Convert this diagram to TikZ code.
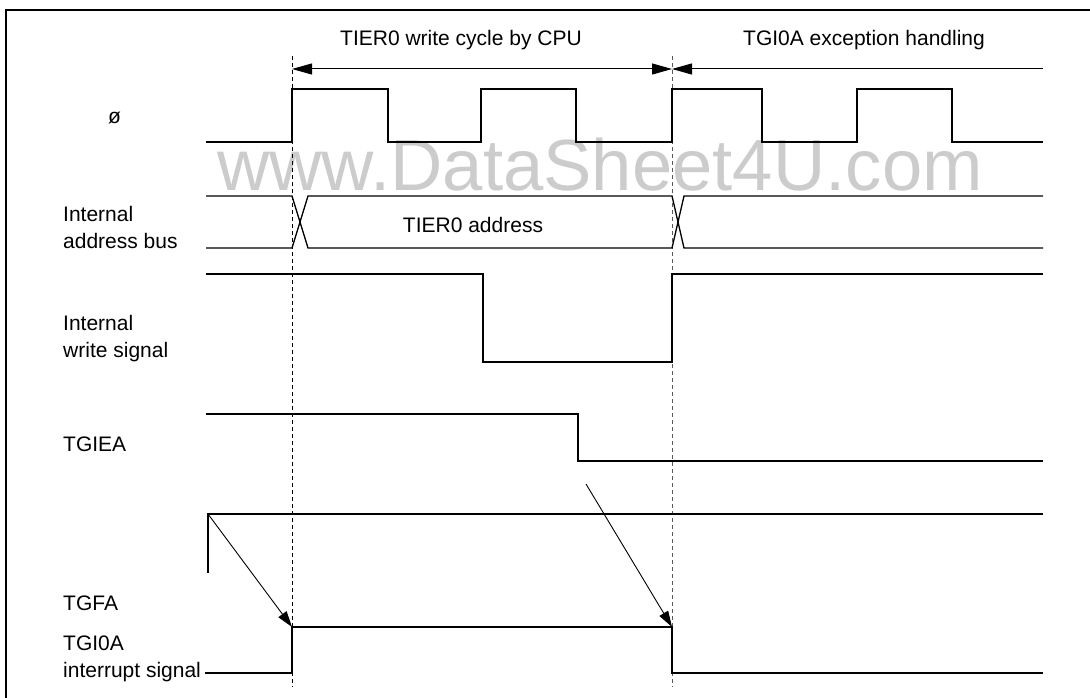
\documentclass[tikz,border=0pt]{standalone}
\usepackage{fontspec}
\setmainfont{Liberation Sans}
\usetikzlibrary{arrows.meta}
\begin{document}
\begin{tikzpicture}[x=1pt,y=-1pt,
  sig/.style={line width=1.3pt, line join=miter},
  lab/.style={anchor=base west, inner sep=0pt, font=\fontsize{21}{25}\selectfont},
  ttl/.style={anchor=base, inner sep=0pt, font=\fontsize{21}{25}\selectfont},
  guide/.style={line width=1pt, dash pattern=on 4pt off 3pt},
  span/.style={line width=1pt, {Triangle[length=20pt,width=11pt]}-{Triangle[length=20pt,width=11pt]}},
  spanl/.style={line width=1pt, {Triangle[length=20pt,width=11pt]}-},
  cause/.style={line width=0.9pt, -{Triangle[length=16pt,width=10pt]}}
]
\useasboundingbox (0,0) rectangle (1090,698);
% watermark
\node[anchor=base, inner sep=0pt, text=black!20, font=\fontsize{72.5}{80}\selectfont] (wm) at (600,190) {www.DataSheet4U.com};
% frame
\draw[line width=1.5pt] (6,698) -- (6,10) -- (1090,10);
% guides
\draw[guide] (292,56) -- (292,687);
\draw[guide, black!65] (672,56) -- (672,687);
% spans
\node[ttl] (t1) at (461,46) {TIER0 write cycle by CPU};
\node[ttl] (t2) at (864,46) {TGI0A exception handling};
\draw[span] (292,69) -- (672,69);
\draw[spanl] (672,69) -- (1043,69);
% labels
\node[lab] (lphi) at (108,124) {ø};
\node[lab] (laddra) at (63,221) {Internal};
\node[lab] (laddrb) at (63,248) {address bus};
\node[lab] (lwra) at (63,330) {Internal};
\node[lab] (lwrb) at (63,357) {write signal};
\node[lab] (ltgiea) at (63,451) {TGIEA};
\node[lab] (ltgfa) at (63,610) {TGFA};
\node[lab] (ltgia) at (63,650) {TGI0A};
\node[lab] (ltgib) at (63,677) {interrupt signal};
% clock
\draw[sig] (206,142) -- (292,142) -- (292,89) -- (388,89) -- (388,142) -- (481,142) -- (481,89) -- (576,89) -- (576,142)
  -- (672,142) -- (672,89) -- (762,89) -- (762,142) -- (857,142) -- (857,89) -- (952,89) -- (952,142) -- (1043,142);
% address bus
\draw[sig] (206,196) -- (292,196) -- (308,248) -- (672,248) -- (684,196) -- (1043,196);
\draw[sig] (206,248) -- (292,248) -- (308,196) -- (672,196) -- (684,248) -- (1043,248);
\node[anchor=base, inner sep=0pt, font=\fontsize{21}{25}\selectfont] (addr) at (473,232) {TIER0 address};
% write signal
\draw[sig] (206,274) -- (483,274) -- (483,362) -- (672,362) -- (672,274) -- (1043,274);
% TGIEA
\draw[sig] (206,414) -- (578,414) -- (578,461) -- (1043,461);
% TGFA
\coordinate (fa0) at (208,573);
\coordinate (fa1) at (208,514);
\draw[sig] (fa0) -- (fa1) -- (1043,514);
% TGI0A
\coordinate (ia0) at (292,627);
\coordinate (ia1) at (672,627);
\coordinate (ias) at (205,673);
\draw[sig] (ias) -- (292,673) -- (ia0) -- (ia1) -- (672,673) -- (1043,673);
% causal arrows
\coordinate (ea) at (586,484);
\draw[cause] (fa1) -- (ia0);
\draw[cause] (ea) -- (ia1);
\end{tikzpicture}
\end{document}
